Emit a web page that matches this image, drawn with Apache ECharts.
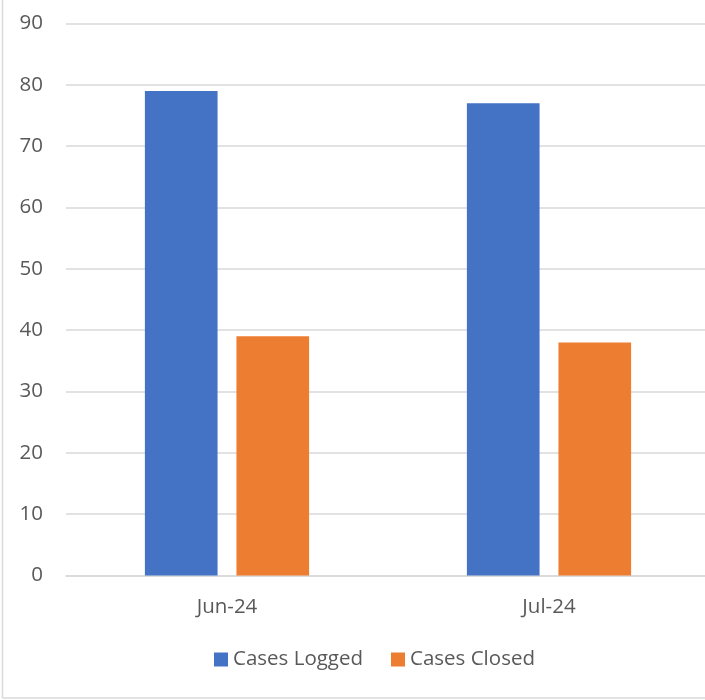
<!DOCTYPE html>
<html>
<head>
<meta charset="utf-8">
<script src="https://cdn.jsdelivr.net/npm/echarts@6/dist/echarts.min.js"></script>
<style>
html,body{margin:0;padding:0;background:#fff;overflow:hidden;}
#c{width:705px;height:700px;}
</style>
</head>
<body>
<div id="c"></div>
<script>
const categories = ['Jun-24', 'Jul-24'];
const casesLogged = [79, 77];
const casesClosed = [39, 38];
const yTicks = { min: 0, max: 90, interval: 10 };

const font = "'Open Sans', 'Liberation Sans', sans-serif";
const chart = echarts.init(document.getElementById('c'), null, { renderer: 'canvas' });
chart.setOption({
  animation: false,
  backgroundColor: '#fff',
  textStyle: { fontFamily: font },
  graphic: [
    { type: 'line', shape: { x1: 2.5, y1: 0, x2: 2.5, y2: 698 }, style: { stroke: '#d9d9d9', lineWidth: 1.5 }, silent: true },
    { type: 'line', shape: { x1: 2.5, y1: 698, x2: 705, y2: 698 }, style: { stroke: '#d9d9d9', lineWidth: 1.5 }, silent: true }
  ],
  legend: {
    bottom: 25,
    left: 209,
    itemWidth: 14,
    itemHeight: 14,
    itemGap: 28,
    icon: 'rect',
    textStyle: { fontSize: 20.5, color: '#595959', fontFamily: font },
    data: ['Cases Logged', 'Cases Closed']
  },
  grid: { left: 66, top: 23.5, width: 644, height: 552, containLabel: false, outerBoundsMode: 'none' },
  xAxis: {
    type: 'category',
    data: categories,
    axisLine: { lineStyle: { color: '#d9d9d9', width: 1.5 } },
    axisTick: { show: false },
    axisLabel: { fontSize: 20.5, color: '#595959', margin: 21, fontFamily: font }
  },
  yAxis: {
    type: 'value',
    min: yTicks.min,
    max: yTicks.max,
    interval: yTicks.interval,
    axisLine: { show: false },
    axisTick: { show: false },
    splitLine: { lineStyle: { color: '#d9d9d9', width: 1.5 } },
    axisLabel: { fontSize: 20.5, color: '#595959', margin: 23, fontFamily: font }
  },
  series: [
    { name: 'Cases Logged', type: 'bar', data: casesLogged, itemStyle: { color: '#4472C4' }, barGap: '26%', barCategoryGap: '49%' },
    { name: 'Cases Closed', type: 'bar', data: casesClosed, itemStyle: { color: '#ED7D31' }, barGap: '26%', barCategoryGap: '49%' }
  ]
});
</script>
</body>
</html>
